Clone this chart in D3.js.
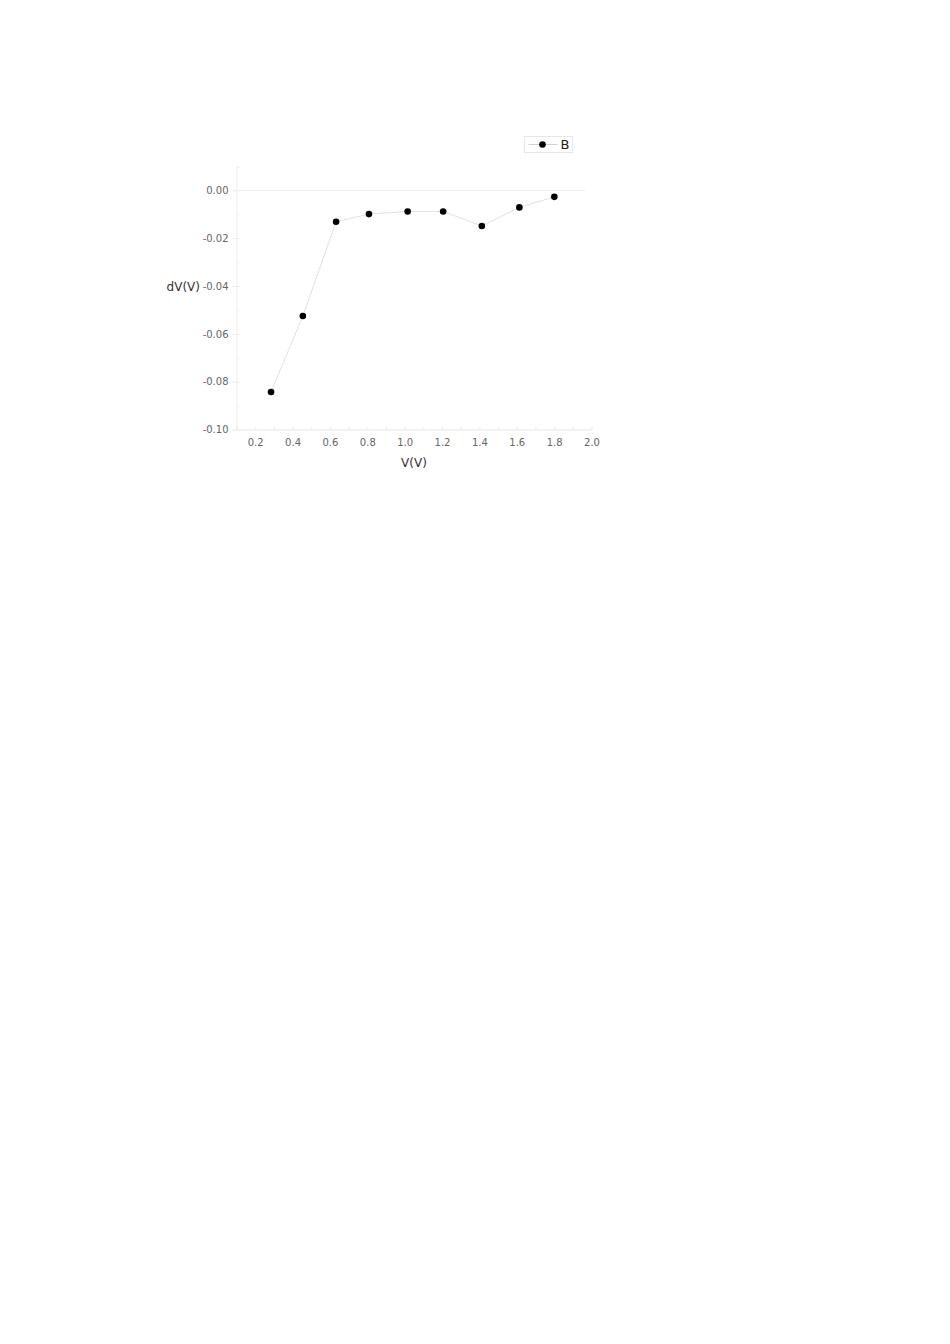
<!DOCTYPE html>
<html>
<head>
<meta charset="utf-8">
<script src="https://cdn.jsdelivr.net/npm/d3@7"></script>
<style>
  body { margin: 0; background: #fff; }
  text { font-family: "DejaVu Sans", sans-serif; }
</style>
</head>
<body>
<div id="chart"></div>
<script>
// data
var seriesName = "B";
var voltage = [0.285, 0.455, 0.633, 0.809, 1.016, 1.206, 1.413, 1.614, 1.801];
var deltaV = [-0.0843, -0.0525, -0.0131, -0.0099, -0.0088, -0.0088, -0.0149, -0.0071, -0.0027];
var xTicks = [0.2, 0.4, 0.6, 0.8, 1.0, 1.2, 1.4, 1.6, 1.8, 2.0];
var yTicks = [0.00, -0.02, -0.04, -0.06, -0.08, -0.10];

var points = voltage.map(function(v, i){ return {x: v, y: deltaV[i]}; });

// plot frame
var width = 950, height = 1344;
var plot = {left: 236.5, right: 591.5, top: 166.5, bottom: 429.5};

var svg = d3.select("#chart").append("svg")
	.attr("width", width)
	.attr("height", height);

var x = d3.scaleLinear().domain([0.1, 2.0]).range([plot.left, plot.right]),
	y = d3.scaleLinear().domain([-0.10, 0.01]).range([plot.bottom, plot.top]);

// plain hyphen instead of the unicode minus d3 uses
function hyphen(fmt){
	var f = d3.format(fmt);
	return function(d){ return f(d).replace("\u2212", "-"); };
}

// zero line
svg.append("line")
	.attr("x1", plot.left).attr("x2", 585)
	.attr("y1", y(0)).attr("y2", y(0))
	.style("stroke", "#eeeeee")
	.style("stroke-width", 1);

// x axis: minor then major ticks
var xMinor = d3.range(0.1, 2.0, 0.1).map(function(d){ return +d.toFixed(1); });
svg.append("g")
	.attr("transform", "translate(0," + plot.bottom + ")")
	.call(d3.axisTop(x).tickValues(xMinor).tickSize(3).tickFormat(""))
	.call(function(g){
		g.select(".domain").style("stroke", "#e8e8e8");
		g.selectAll(".tick line").style("stroke", "#ededed");
	});

svg.append("g")
	.attr("transform", "translate(0," + plot.bottom + ")")
	.call(d3.axisBottom(x).tickValues(xTicks).tickSize(0).tickPadding(9)
		.tickFormat(hyphen(".1f")))
	.call(function(g){
		g.select(".domain").remove();
		g.selectAll(".tick text")
			.style("font-size", "10px")
			.style("fill", "#666");
	});

// y axis
var yMinor = d3.range(-10, 2, 1).map(function(d){ return d / 100; });
svg.append("g")
	.attr("transform", "translate(" + plot.left + ",0)")
	.call(d3.axisRight(y).tickValues(yMinor).tickSize(3).tickFormat(""))
	.call(function(g){
		g.select(".domain").style("stroke", "#eeeeee");
		g.selectAll(".tick line").style("stroke", "#f0f0f0");
	});

svg.append("g")
	.attr("transform", "translate(" + plot.left + ",0)")
	.call(d3.axisLeft(y).tickValues(yTicks).tickSize(4).tickPadding(4)
		.tickFormat(hyphen(".2f")))
	.call(function(g){
		g.select(".domain").remove();
		g.selectAll(".tick line").style("stroke", "#e8e8e8");
		g.selectAll(".tick text")
			.style("font-size", "10px")
			.style("fill", "#666");
	});

// axis titles
svg.append("text")
	.attr("x", (plot.left + plot.right) / 2)
	.attr("y", 467)
	.attr("text-anchor", "middle")
	.style("font-size", "12px")
	.style("fill", "#333")
	.text("V(V)");

svg.append("text")
	.attr("x", 200)
	.attr("y", y(-0.04) + 4.5)
	.attr("text-anchor", "end")
	.style("font-size", "12px")
	.style("fill", "#333")
	.text("dV(V)");

// series line
var line = d3.line()
	.x(function(d){ return x(d.x); })
	.y(function(d){ return y(d.y); });

svg.append("path")
	.datum(points)
	.attr("d", line)
	.style("fill", "none")
	.style("stroke", "#e2e2e2")
	.style("stroke-width", 1);

svg.selectAll(".dot")
	.data(points)
	.enter()
	.append("circle")
	.attr("class", "dot")
	.attr("cx", function(d){ return x(d.x); })
	.attr("cy", function(d){ return y(d.y); })
	.attr("r", 3.3)
	.style("fill", "#000");

// legend
var legend = svg.append("g").attr("transform", "translate(524.5,136.5)");

legend.append("rect")
	.attr("width", 48).attr("height", 16)
	.style("fill", "#fff")
	.style("stroke", "#e6e6e6");

legend.append("line")
	.attr("x1", 4).attr("x2", 33)
	.attr("y1", 8).attr("y2", 8)
	.style("stroke", "#d0d0d0");

legend.append("circle")
	.attr("cx", 18).attr("cy", 8).attr("r", 3.3)
	.style("fill", "#000");

legend.append("text")
	.attr("x", 36).attr("y", 12.5)
	.style("font-size", "13px")
	.style("fill", "#222")
	.text(seriesName);
</script>
</body>
</html>
